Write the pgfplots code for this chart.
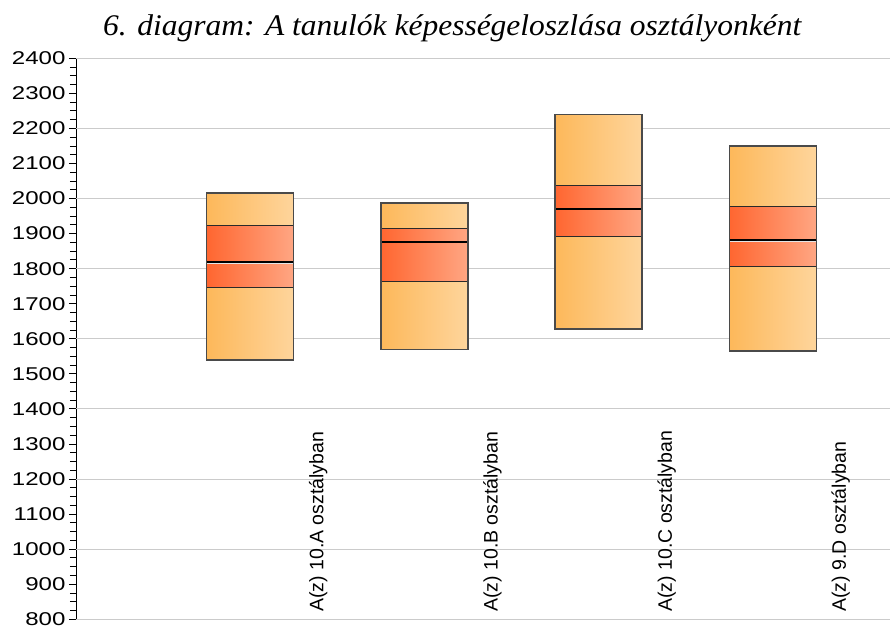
\documentclass[border=0pt]{standalone}
\usepackage{fontspec}
\setmainfont{Liberation Sans}
\newfontfamily\titlefont[FakeStretch=1.05]{Liberation Serif}
\newfontfamily\tickfont[FakeStretch=1.3]{Liberation Sans}
\usepackage{pgfplots}
\pgfplotsset{compat=1.18}
\definecolor{o1}{HTML}{FDB85A}
\definecolor{o2}{HTML}{FED59C}
\definecolor{r1}{HTML}{FF6630}
\definecolor{r2}{HTML}{FFA683}
\definecolor{edge}{HTML}{4A4A4A}
\definecolor{bandedge}{HTML}{2A2A2A}
\definecolor{gridc}{HTML}{CBCBCB}
\begin{document}
\begin{tikzpicture}[x=1pt,y=1pt]
\path[use as bounding box] (0,0) rectangle (890,625);
\node[anchor=base west, inner sep=0] at (103,589) {\titlefont\itshape\fontsize{30}{36}\selectfont 6. diagram: A tanulók képességeloszlása osztályonként};
\begin{axis}[
  at={(76pt,5.7pt)}, anchor=south west,
  scale only axis, width=814pt, height=561pt,
  xmin=0, xmax=4.673, ymin=800, ymax=2400,
  axis x line=none, axis y line*=left,
  axis line style={black, line width=1pt},
  xtick=\empty,
  ytick={800,900,...,2400},
  minor y tick num=3,
  tick align=outside,
  major tick length=7pt, minor tick length=6pt,
  tick style={black, line width=0.9pt},
  yticklabel style={font=\tickfont\fontsize{18.5}{21}\selectfont},
  /pgf/number format/assume math mode=true,
  /pgf/number format/1000 sep={},
  extra y ticks={800,1000,...,2400},
  extra y tick style={ymajorgrids=true, yticklabel={}, major tick length=0pt},
  major grid style={gridc, line width=1pt},
  clip=false,
]
% outer boxes (min to max)
\addplot[draw=none, left color=o1, right color=o2] coordinates {(0.75,1539) (1.25,1539) (1.25,2016) (0.75,2016) (0.75,1539)};
\addplot[draw=none, left color=o1, right color=o2] coordinates {(1.75,1569) (2.25,1569) (2.25,1987) (1.75,1987) (1.75,1569)};
\addplot[draw=none, left color=o1, right color=o2] coordinates {(2.75,1628) (3.25,1628) (3.25,2239) (2.75,2239) (2.75,1628)};
\addplot[draw=none, left color=o1, right color=o2] coordinates {(3.75,1565) (4.25,1565) (4.25,2150) (3.75,2150) (3.75,1565)};
% inner bands
\addplot[draw=bandedge, line width=1pt, left color=r1, right color=r2] coordinates {(0.75,1747) (1.25,1747) (1.25,1923) (0.75,1923) (0.75,1747)};
\addplot[draw=bandedge, line width=1pt, left color=r1, right color=r2] coordinates {(1.75,1763) (2.25,1763) (2.25,1916) (1.75,1916) (1.75,1763)};
\addplot[draw=bandedge, line width=1pt, left color=r1, right color=r2] coordinates {(2.75,1893) (3.25,1893) (3.25,2036) (2.75,2036) (2.75,1893)};
\addplot[draw=bandedge, line width=1pt, left color=r1, right color=r2] coordinates {(3.75,1806) (4.25,1806) (4.25,1977) (3.75,1977) (3.75,1806)};
% medians
\addplot[black, line width=2pt] coordinates {(0.75,1820) (1.25,1820)};
\addplot[black, line width=2pt] coordinates {(1.75,1875) (2.25,1875)};
\addplot[black, line width=2pt] coordinates {(2.75,1971) (3.25,1971)};
\addplot[black, line width=2pt] coordinates {(3.75,1882) (4.25,1882)};
\addplot[white!80!gray, line width=0.7pt] coordinates {(0.75,1815) (1.25,1815)};
\addplot[white!80!gray, line width=0.7pt] coordinates {(3.75,1877) (4.25,1877)};
% outlines of outer boxes
\addplot[edge, line width=1.4pt, line join=miter] coordinates {(0.75,1539) (1.25,1539) (1.25,2016) (0.75,2016) (0.75,1539)} -- cycle;
\addplot[edge, line width=1.4pt, line join=miter] coordinates {(1.75,1569) (2.25,1569) (2.25,1987) (1.75,1987) (1.75,1569)} -- cycle;
\addplot[edge, line width=1.4pt, line join=miter] coordinates {(2.75,1628) (3.25,1628) (3.25,2239) (2.75,2239) (2.75,1628)} -- cycle;
\addplot[edge, line width=1.4pt, line join=miter] coordinates {(3.75,1565) (4.25,1565) (4.25,2150) (3.75,2150) (3.75,1565)} -- cycle;
% category labels
\node[rotate=90, anchor=base west, inner sep=0, font=\fontsize{19.5}{22}\selectfont] at (axis cs:1.42,821) {A(z) 10.A osztályban};
\node[rotate=90, anchor=base west, inner sep=0, font=\fontsize{19.5}{22}\selectfont] at (axis cs:2.42,821) {A(z) 10.B osztályban};
\node[rotate=90, anchor=base west, inner sep=0, font=\fontsize{19.5}{22}\selectfont] at (axis cs:3.42,821) {A(z) 10.C osztályban};
\node[rotate=90, anchor=base west, inner sep=0, font=\fontsize{19.5}{22}\selectfont] at (axis cs:4.42,821) {A(z) 9.D osztályban};
\end{axis}
\end{tikzpicture}
\end{document}
